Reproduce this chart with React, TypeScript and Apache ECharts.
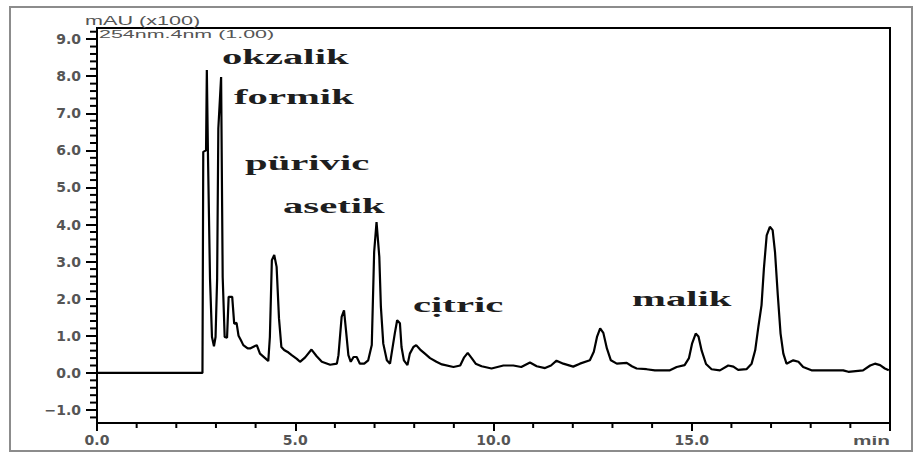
import React, { useEffect, useRef } from "react";
import * as echarts from "echarts";

// Retention time (min)
const times: number[] = [
  0, 2.66, 2.68, 2.75, 2.77, 2.8, 2.85, 2.9, 2.95, 2.99, 3.03, 3.06, 3.13, 3.17, 3.22, 3.28, 3.32, 3.41,
  3.46, 3.52, 3.57, 3.63, 3.69, 3.8, 3.86, 4.03, 4.11, 4.24, 4.32, 4.36, 4.41, 4.47, 4.53, 4.59, 4.65,
  4.72, 4.83, 4.91, 5.04, 5.12, 5.25, 5.41, 5.54, 5.67, 5.88, 6.05, 6.09, 6.17, 6.23, 6.28, 6.34, 6.4,
  6.47, 6.55, 6.63, 6.74, 6.84, 6.93, 6.99, 7.05, 7.12, 7.16, 7.22, 7.31, 7.39, 7.47, 7.51, 7.57, 7.64,
  7.68, 7.74, 7.83, 7.89, 7.98, 8.05, 8.15, 8.27, 8.4, 8.56, 8.7, 8.99, 9.16, 9.26, 9.35, 9.45, 9.55,
  9.7, 9.95, 10.25, 10.5, 10.7, 10.92, 11.09, 11.3, 11.45, 11.59, 11.76, 12.01, 12.18, 12.43, 12.53,
  12.61, 12.69, 12.77, 12.86, 12.96, 13.11, 13.36, 13.49, 13.61, 13.86, 14.07, 14.45, 14.62, 14.82,
  14.93, 15.01, 15.1, 15.17, 15.25, 15.36, 15.5, 15.71, 15.92, 16.05, 16.17, 16.38, 16.51, 16.6, 16.68,
  16.76, 16.82, 16.89, 16.97, 17.04, 17.1, 17.17, 17.24, 17.31, 17.39, 17.56, 17.69, 17.81, 18.02,
  18.82, 18.95, 19.32, 19.5, 19.62, 19.75, 19.87, 19.97,
];

// Absorbance (mAU x100)
const absorbance: number[] = [
  0, 0, 5.96, 6.0, 8.17, 5.78, 2.55, 0.97, 0.72, 0.97, 2.55, 6.59, 7.98, 2.58, 0.97, 0.95, 2.05, 2.05,
  1.33, 1.35, 1.0, 0.88, 0.75, 0.66, 0.66, 0.75, 0.52, 0.4, 0.32, 0.97, 3.04, 3.18, 2.86, 1.47, 0.7,
  0.62, 0.55, 0.48, 0.38, 0.3, 0.42, 0.63, 0.45, 0.3, 0.22, 0.25, 0.48, 1.51, 1.69, 1.15, 0.48, 0.3,
  0.43, 0.43, 0.25, 0.25, 0.34, 0.75, 3.26, 4.07, 3.13, 1.78, 0.79, 0.34, 0.25, 0.79, 1.06, 1.42, 1.34,
  0.7, 0.34, 0.21, 0.52, 0.7, 0.75, 0.63, 0.52, 0.4, 0.3, 0.23, 0.16, 0.2, 0.42, 0.54, 0.4, 0.25,
  0.18, 0.12, 0.2, 0.2, 0.16, 0.28, 0.18, 0.13, 0.2, 0.33, 0.25, 0.17, 0.25, 0.34, 0.57,
  0.97, 1.2, 1.08, 0.66, 0.34, 0.25, 0.27, 0.18, 0.12, 0.1, 0.07, 0.07, 0.16, 0.21,
  0.4, 0.8, 1.06, 0.98, 0.6, 0.24, 0.1, 0.07, 0.2, 0.17, 0.08, 0.1, 0.25, 0.61, 1.24,
  1.83, 2.82, 3.71, 3.94, 3.85, 3.26, 2.1, 1.06, 0.52, 0.25, 0.34, 0.3, 0.16, 0.07,
  0.07, 0.03, 0.07, 0.2, 0.25, 0.21, 0.12, 0.07,
];

const yMajorTicks: number[] = [-1, 0, 1, 2, 3, 4, 5, 6, 7, 8, 9];
const xTickLabels: string[] = ["0.0", "5.0", "10.0", "15.0", ""];

const peakNames: string[] = ["okzalik", "formik", "pürivic", "asetik", "cịtric", "malik"];
const yAxisTitle = "mAU (x100)";
const detectorText = "254nm.4nm (1.00)";
const xUnit = "min";

const X_MIN = 0;
const X_MAX = 20;
const Y_MIN = -1.35;
const Y_MAX = 9.3;

export default function App() {
  const ref = useRef<HTMLDivElement>(null);

  useEffect(() => {
    document.body.style.margin = "0";
    if (!ref.current) return;
    const chart = echarts.init(ref.current, null, { renderer: "svg" });

    // minor tick positions: every 0.2 on y (non-integer), every 1 min on x (non-multiple of 5)
    const yMinor: number[][] = [];
    for (let i = -6; i <= 46; i++) {
      const v = Math.round(i * 0.2 * 10) / 10;
      if (Math.abs(v - Math.round(v)) > 1e-6) yMinor.push([X_MIN, v]);
    }
    const xMinor: number[][] = [];
    for (let t = 1; t < 20; t++) if (t % 5 !== 0) xMinor.push([t, Y_MIN]);

    const data = times.map((t, i) => [t, absorbance[i]]);
    const labelPos: [number, number][] = [
      [222, 68],
      [234, 108],
      [245, 174],
      [283, 217],
      [413, 316],
      [632, 310],
    ];

    const tickSeries = (ticks: number[][], dx: number, dy: number) => ({
      type: "custom",
      coordinateSystem: "cartesian2d",
      data: ticks,
      clip: false,
      silent: true,
      z: 5,
      renderItem: (_params: any, api: any) => {
        const p = api.coord([api.value(0), api.value(1)]);
        return {
          type: "line",
          shape: { x1: p[0], y1: p[1], x2: p[0] + dx, y2: p[1] + dy },
          style: { stroke: "#000", lineWidth: 2 },
        };
      },
    });

    const option: any = {
      animation: false,
      backgroundColor: "#fff",
      grid: {
        left: 97,
        right: 34,
        top: 28,
        bottom: 33,
        show: true,
        borderColor: "#000",
        borderWidth: 2,
        backgroundColor: "transparent",
      },
      xAxis: {
        type: "value",
        min: X_MIN,
        max: X_MAX,
        interval: 5,
        axisLine: { show: true, onZero: false, lineStyle: { color: "#000", width: 2 } },
        axisTick: { show: true, length: 8, lineStyle: { color: "#000", width: 2 } },
        minorTick: { show: false },
        splitLine: { show: false },
        minorSplitLine: { show: false },
        axisLabel: {
          formatter: (v: number) => xTickLabels[Math.round(v / 5)] ?? "",
          color: "#555",
          fontFamily: "DejaVu Sans",
          fontSize: 14,
          fontWeight: "bold",
          margin: 10,
        },
      },
      yAxis: {
        type: "value",
        min: Y_MIN,
        max: Y_MAX,
        axisLine: { show: true, onZero: false, lineStyle: { color: "#000", width: 2 } },
        axisTick: {
          show: true,
          length: 11,
          customValues: yMajorTicks,
          lineStyle: { color: "#000", width: 2 },
        },
        axisLabel: {
          customValues: yMajorTicks,
          formatter: (v: number) => (v < 0 ? "\u2212" + Math.abs(v).toFixed(1) : v.toFixed(1)),
          color: "#555",
          fontFamily: "DejaVu Sans",
          fontSize: 14,
          fontWeight: "bold",
          margin: 16,
        },
        splitLine: { show: false },
      },
      series: [
        {
          type: "line",
          data,
          showSymbol: false,
          symbol: "none",
          clip: true,
          lineStyle: { color: "#000", width: 2.2 },
        },
        tickSeries(yMinor, -7, 0),
        tickSeries(xMinor, 0, 5),
      ],
      graphic: [
        {
          type: "rect",
          shape: { x: 10, y: 7, width: 902, height: 444 },
          style: { fill: "none", stroke: "#8c8c8c", lineWidth: 2 },
          silent: true,
          z: -1,
        },
        {
          type: "text",
          x: 85,
          y: 21,
          scaleX: 1.8,
          style: {
            text: yAxisTitle,
            font: '12px "Liberation Sans"',
            fill: "#555",
            textAlign: "left",
            textVerticalAlign: "middle",
          },
        },
        {
          type: "text",
          x: 99,
          y: 34,
          scaleX: 1.95,
          style: {
            text: detectorText,
            font: '11px "Liberation Sans"',
            fill: "#555",
            textAlign: "left",
            textVerticalAlign: "middle",
          },
        },
        {
          type: "text",
          x: 890,
          y: 441,
          scaleX: 1.6,
          style: {
            text: xUnit,
            font: 'bold 13px "Liberation Sans"',
            fill: "#555",
            textAlign: "right",
            textVerticalAlign: "middle",
          },
        },
        ...peakNames.map((name, i) => ({
          type: "text",
          x: labelPos[i][0],
          y: labelPos[i][1],
          scaleX: 1.85,
          style: {
            text: name,
            font: 'bold 22px "Liberation Serif"',
            fill: "#1e1e1e",
            textAlign: "left",
            textVerticalAlign: "bottom",
          },
        })),
      ],
    };

    chart.setOption(option);
    return () => chart.dispose();
  }, []);

  return <div ref={ref} style={{ width: 924, height: 456 }} />;
}
